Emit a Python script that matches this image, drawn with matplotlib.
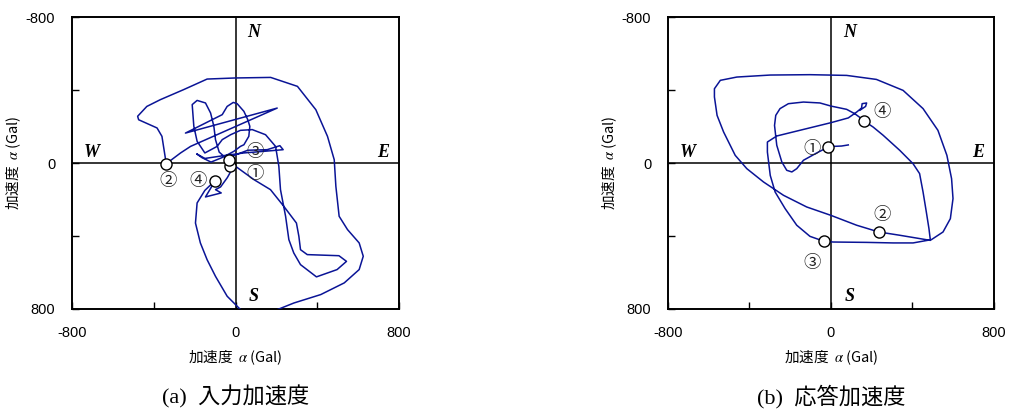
import numpy as np
import matplotlib.pyplot as plt

plt.rcParams['font.family'] = ['Liberation Sans', 'Noto Sans CJK JP', 'DejaVu Sans']
plt.rcParams['mathtext.fontset'] = 'stix'

# (a) 入力加速度 : 軌跡 (EW, NS) [Gal]
input_x = [-25, 0, 90, 171, 236, 298, 310, 318, 351, 506, 543, 497, 396, 318, 285, 261,
           245, 220, 212, 196, 147, 82, 24, -24, -65, -90, -150, -188, -204, -212, -188,
           -147, -122, -106, -98, -80, -40, -10, 60, 155, 217, 233, 150, 40, -60, -150,
           -190, -165, -120, -65, -8, 24, 41, 65, 70, 60, 41, 8, -11, -41, -65, -245,
           204, -220, -269, -339, -360, -384, -474, -479, -434, -368, -254, -139, 0, 172,
           303, 393, 450, 483, 491, 507, 548, 605, 625, 605, 532, 417, 286, 172, 33, -41,
           -98, -139, -172, -196, -188, -150, -120, -101, -147, -70, -98, -73, -40, -5, -33]
input_y = [18, 18, 91, 146, 237, 329, 402, 475, 502, 508, 539, 584, 624, 557, 493, 420,
           292, 146, 18, -91, -155, -183, -179, -155, -128, -91, -55, -119, -201, -320, -343,
           -329, -274, -201, -128, -60, -20, -40, -70, -73, -95, -73, -65, -55, -40, -25,
           -50, -30, -5, -30, -64, -91, -100, -146, -201, -237, -283, -325, -332, -310, -265, -164,
           -301, -91, -55, 4, -146, -192, -237, -256, -310, -347, -402, -460, -466, -469,
           -420, -292, -146, -18, 128, 292, 365, 438, 511, 584, 657, 721, 767, 818, 813, 730,
           621, 530, 438, 329, 219, 150, 118, 100, 186, 164, 146, 131, 80, 10, -15]

# (b) 応答加速度
resp_x = [85, 52, 11, -16, -70, -135, -168, -192, -217, -241, -266, -277, -271, -250, -209,
          -135, -54, 0, 77, 117, 150, 163, 207, 256, 338, 403, 435, 452, 468, 481, 488, 338,
          235, 126, 0, -119, -233, -331, -413, -470, -527, -559, -572, -572, -543, -462, -298,
          -103, 77, 223, 354, 452, 525, 569, 592, 599, 586, 550, 493, 403, 305, 175, 11, -34,
          -103, -168, -225, -274, -298, -312, -312, -266, -135, 0, 85, 126, 150, 153, 175, 170, 142]
resp_y = [-99, -93, -91, -86, -55, -15, 31, 49, 40, -5, -97, -206, -261, -298, -325,
          -334, -329, -312, -294, -270, -243, -230, -197, -152, -69, 4, 58, 159, 268, 360, 424, 396,
          378, 341, 287, 241, 177, 104, 31, -42, -170, -261, -362, -407, -453, -471, -482,
          -484, -480, -458, -398, -298, -179, -42, 86, 195, 305, 378, 420, 438, 438, 435, 433, 429,
          402, 341, 250, 159, 68, -60, -115, -148, -184, -221, -247, -279, -301, -325, -329, -310, -289]

marks = ['①', '②', '③', '④']
input_mx = [-25, -339, -33, -101]
input_my = [18, 4, -15, 100]
input_lx = [95, -332, 95, -185]
input_ly = [60, 100, -58, 100]
resp_mx = [-16, 235, -34, 163]
resp_my = [-88, 378, 429, -230]
resp_lx = [-95, 253, -94, 253]
resp_ly = [-79, 287, 548, -279]

fig = plt.figure(figsize=(10.13, 4.2), dpi=100)
ax1 = fig.add_axes([0.0711, 0.2643, 0.3228, 0.6952])
ax2 = fig.add_axes([0.6594, 0.2643, 0.3218, 0.6952])

panels = [
    (ax1, input_x, input_y, input_mx, input_my, input_lx, input_ly, '(a)  入力加速度'),
    (ax2, resp_x, resp_y, resp_mx, resp_my, resp_lx, resp_ly, '(b)  応答加速度'),
]

for ax, xs, ys, mx, my, lx, ly, cap in panels:
    ax.plot(xs, ys, color='#0a1496', lw=1.1, zorder=3)
    ax.axhline(0, color='black', lw=1.1, zorder=2)
    ax.axvline(0, color='black', lw=1.1, zorder=2)
    ax.plot(mx, my, 'o', ms=8, mfc='white', mec='black', mew=1.0, zorder=4)
    for m, x, y in zip(marks, lx, ly):
        ax.text(x, y, m, fontsize=12.5, ha='center', va='center',
                family=['Noto Sans CJK JP', 'DejaVu Sans'], color='#222222')
    ax.set_xlim(-800, 800)
    ax.set_ylim(800, -800)
    ax.set_xticks([-800, -400, 0, 400, 800])
    ax.set_xticklabels(['-800', '', '0', '', '800'])
    ax.set_yticks([-800, -400, 0, 400, 800])
    ax.set_yticklabels(['-800', '', '0', '', '800'])
    ax.tick_params(direction='in', length=5, width=1, labelsize=10.5, pad=12)
    for s in ax.spines.values():
        s.set_linewidth(1.4)
    ax.set_xlabel('加速度  $\\alpha$ (Gal)', fontsize=10.5, labelpad=6,
                  family=['Noto Sans CJK JP', 'DejaVu Sans'])
    ax.set_ylabel('加速度  $\\alpha$ (Gal)', fontsize=10.5, labelpad=2,
                  family=['Noto Sans CJK JP', 'DejaVu Sans'])
    sty = dict(fontsize=13, fontweight='bold', fontstyle='italic',
               family='Liberation Serif', ha='center', va='center')
    ax.text(90, -715, 'N', **sty)
    ax.text(90, 730, 'S', **sty)
    ax.text(-705, -60, 'W', **sty)
    ax.text(720, -60, 'E', **sty)
    pos = ax.get_position()
    fig.text((pos.x0 + pos.x1) / 2, 0.055, cap, ha='center', va='center',
             fontsize=16, family=['Liberation Serif', 'Noto Sans CJK JP'])

fig.savefig('out.png', dpi=100)
